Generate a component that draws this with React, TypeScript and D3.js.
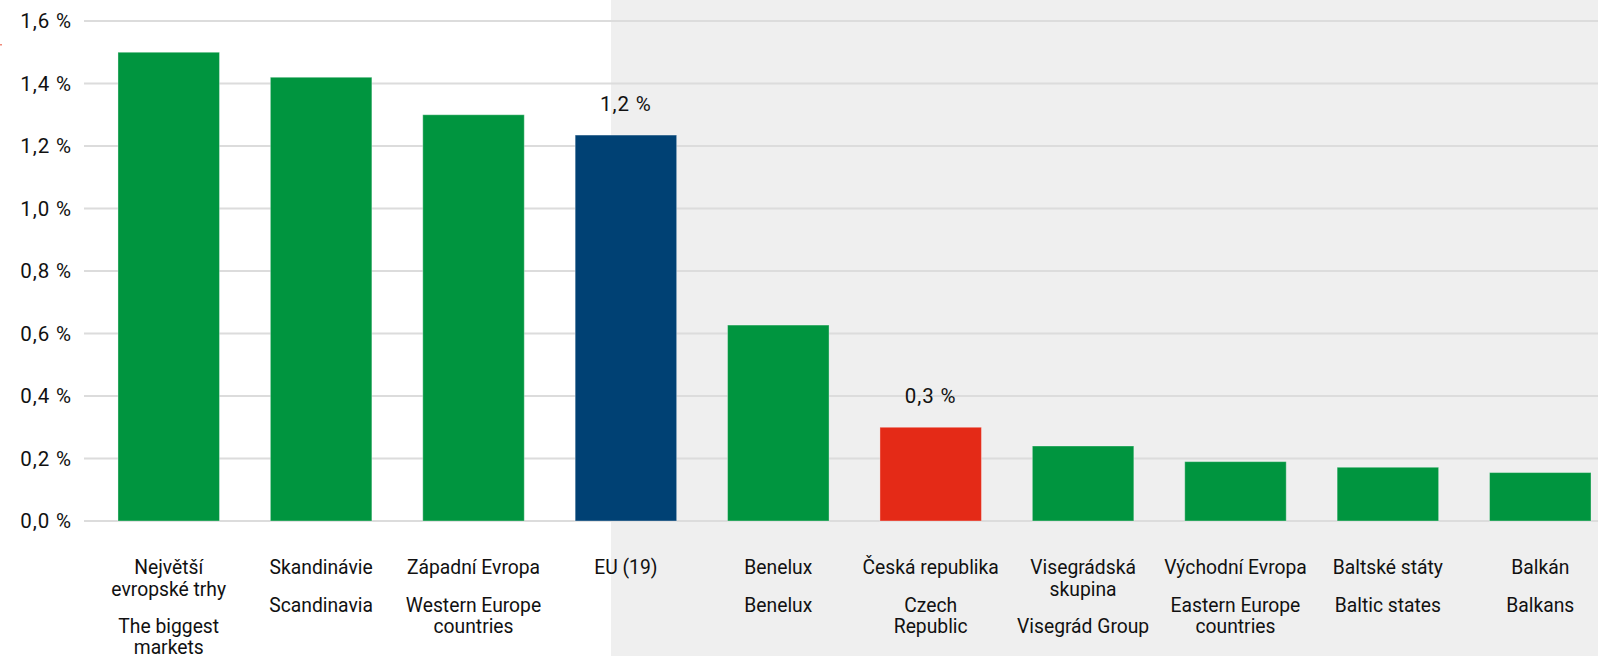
import React from "react";
import * as d3 from "d3";

const categoryKeys = ["big", "scan", "west", "eu", "bnl", "cz", "v4", "east", "baltic", "balkan"];
const czechLabels = [
  ["Největší", "evropské trhy"],
  ["Skandinávie"],
  ["Západní Evropa"],
  ["EU (19)"],
  ["Benelux"],
  ["Česká republika"],
  ["Visegrádská", "skupina"],
  ["Východní Evropa"],
  ["Baltské státy"],
  ["Balkán"],
];
const englishLabels = [
  ["The biggest", "markets"],
  ["Scandinavia"],
  ["Western Europe", "countries"],
  [],
  ["Benelux"],
  ["Czech", "Republic"],
  ["Visegrád Group"],
  ["Eastern Europe", "countries"],
  ["Baltic states"],
  ["Balkans"],
];
const values = [1.5, 1.42, 1.3, 1.235, 0.627, 0.3, 0.24, 0.19, 0.172, 0.155];
const barKinds = ["g", "g", "g", "eu", "g", "cz", "g", "g", "g", "g"];
const valueLabels = ["", "", "", "1,2 %", "", "0,3 %", "", "", "", ""];
const yTicks = [0, 0.2, 0.4, 0.6, 0.8, 1.0, 1.2, 1.4, 1.6];

const W = 1598;
const H = 656;
const COLORS: Record<string, string> = { g: "#00953f", eu: "#004174", cz: "#e42a17" };
const FONT = "Roboto, 'Noto Sans', sans-serif";

export default function App() {
  const y = d3.scaleLinear().domain([0, 1.6]).range([521, 21]);
  const x = d3
    .scaleBand<string>()
    .domain(categoryKeys)
    .range([84, 1625])
    .paddingInner(0.334)
    .paddingOuter(0.223);
  const fmt = (v: number) => d3.format(".1f")(v).replace(".", ",") + "\u00a0%";

  const line1 = 574;
  const lh = 21.5;
  const gap = 16;

  return (
    <svg
      width={W}
      height={H}
      style={{ position: "absolute", left: 0, top: 0, display: "block" }}
      fontFamily={FONT}
    >
      <rect x={0} y={0} width={W} height={H} fill="#ffffff" />
      <rect x={611} y={0} width={W - 611} height={H} fill="#efefef" />
      <rect x={0} y={44} width={2} height={1.5} fill="#f08a7a" />
      {yTicks.map((t) => (
        <g key={t}>
          <line x1={84} x2={W} y1={y(t)} y2={y(t)} stroke="#dcdcdc" strokeWidth={2} />
          <text
            x={72}
            y={y(t) + 7}
            textAnchor="end"
            fontSize={20.5}
            letterSpacing={0.9}
            fill="#111"
          >
            {fmt(t)}
          </text>
        </g>
      ))}
      {categoryKeys.map((k, i) => {
        const bx = x(k)!;
        const bw = x.bandwidth();
        const cx = bx + bw / 2;
        const cz = czechLabels[i];
        const en = englishLabels[i];
        const enStart = line1 + (cz.length - 1) * lh + lh + gap;
        return (
          <g key={k}>
            <rect
              x={bx}
              y={y(values[i])}
              width={bw}
              height={y(0) - y(values[i])}
              fill={COLORS[barKinds[i]]}
              stroke="rgba(255,255,255,0.35)"
              strokeWidth={1}
            />
            {valueLabels[i] && (
              <text
                x={cx}
                y={y(values[i]) - 24}
                textAnchor="middle"
                fontSize={20.5}
                letterSpacing={0.9}
                fill="#111"
              >
                {valueLabels[i]}
              </text>
            )}
            {cz.map((s, j) => (
              <text key={"c" + j} x={cx} y={line1 + j * lh} textAnchor="middle" fontSize={19.3} fill="#111">
                {s}
              </text>
            ))}
            {en.map((s, j) => (
              <text key={"e" + j} x={cx} y={enStart + j * lh - (j > 0 && cz.length > 1 ? 1 : 0)} textAnchor="middle" fontSize={19.3} fill="#111">
                {s}
              </text>
            ))}
          </g>
        );
      })}
    </svg>
  );
}
